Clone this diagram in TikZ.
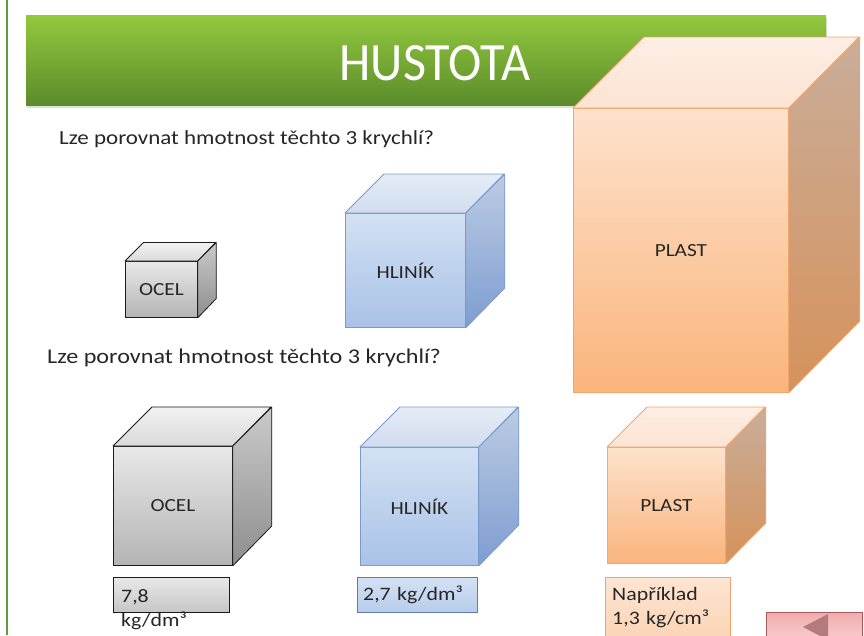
\documentclass[tikz,border=0pt]{standalone}
\usepackage{fontspec}
\setmainfont{Carlito}[FakeStretch=1.15]
\newfontfamily\titlefont{Carlito}[FakeStretch=0.93]
\usetikzlibrary{shadows}
\definecolor{txt}{HTML}{262626}
\definecolor{leftgreen}{HTML}{5E9E3E}
\definecolor{banT}{HTML}{93C83E}
\definecolor{banB}{HTML}{5B8C2B}
% gray cube
\definecolor{gL}{HTML}{1A1A1A}
\definecolor{gFT}{HTML}{E8E8E8}\definecolor{gFB}{HTML}{B4B4B4}
\definecolor{gTT}{HTML}{F2F2F2}\definecolor{gTB}{HTML}{DADADA}
\definecolor{gRT}{HTML}{CACACA}\definecolor{gRB}{HTML}{8E8E8E}
% blue cube
\definecolor{bL}{HTML}{7A9ACB}
\definecolor{bFT}{HTML}{D3E1F3}\definecolor{bFB}{HTML}{A9C2E7}
\definecolor{bTT}{HTML}{E4ECF6}\definecolor{bTB}{HTML}{D0DDF0}
\definecolor{bRT}{HTML}{BCCBE3}\definecolor{bRB}{HTML}{7E9DD2}
% orange cube
\definecolor{oL}{HTML}{F3A66C}
\definecolor{oFT}{HTML}{FDE2CC}\definecolor{oFB}{HTML}{FAB47C}
\definecolor{oTT}{HTML}{FDEEE4}\definecolor{oTB}{HTML}{FCE4D2}
\definecolor{oRT}{HTML}{C9AD9A}\definecolor{oRB}{HTML}{D6925A}
% value boxes
\definecolor{gvT}{HTML}{E8E8E8}\definecolor{gvB}{HTML}{C6C6C6}
\definecolor{bvT}{HTML}{D3E1F3}\definecolor{bvB}{HTML}{B7CCEB}\definecolor{bvL}{HTML}{5A7DB5}
\definecolor{ovT}{HTML}{FDE5D2}\definecolor{ovB}{HTML}{FBD3B4}\definecolor{ovL}{HTML}{EFA46E}
% button
\definecolor{btnT}{HTML}{F1ACAC}\definecolor{btnB}{HTML}{F9D5D5}\definecolor{btnL}{HTML}{A45A5A}
\definecolor{btnTri}{HTML}{B57A7E}
\newcommand\lblfont{\fontsize{18.5}{22}\selectfont}
\newcommand\valfont{\fontsize{19}{24}\selectfont}
% name, x, y, w, h, depth, colour prefix, label
\newcommand\drawcube[8]{%
  \node[face, draw=#7L, top color=#7FT, bottom color=#7FB,
        minimum width=#4, minimum height=#5] (#1) at (#2,#3) {#8};
  \draw[side, draw=#7L, top color=#7TT, bottom color=#7TB]
    (#1.north west) -- ++(#6,-#6) -- ++(#4,0) -- (#1.north east) -- cycle;
  \draw[side, draw=#7L, top color=#7RT, bottom color=#7RB]
    (#1.north east) -- ++(#6,-#6) -- ++(0,#5) -- (#1.south east) -- cycle;
}
\begin{document}
\begin{tikzpicture}[x=1pt,y=-1pt,
  face/.style={draw, line width=0.8pt, inner sep=0pt, anchor=north west, font=\lblfont, text=txt},
  side/.style={line width=0.8pt, line join=round},
  valbox/.style={draw, line width=0.8pt, anchor=north west, inner sep=0pt},
  valtxt/.style={anchor=base west, inner sep=0pt, font=\valfont, text=txt, text width=130pt, align=left},
  question/.style={anchor=base west, inner sep=0pt, text=txt},
  banner/.style={anchor=north west, inner sep=0pt, top color=banT, bottom color=banB,
                 drop shadow={opacity=0.25, shadow xshift=1pt, shadow yshift=-3pt}},
  titletext/.style={text=white, font=\titlefont\fontsize{54}{60}\selectfont, inner sep=0pt},
  btn/.style={draw=btnL, line width=0.8pt, anchor=north west, top color=btnT, bottom color=btnB, inner sep=0pt},
]
\useasboundingbox (0,0) rectangle (864,635);
\fill[white] (0,0) rectangle (864,635);
\draw[leftgreen, line width=1.5pt] (7,0) -- (7,635);

% banner and title
\node[banner, minimum width=800, minimum height=90] (banner) at (26,15) {};
\node[titletext] (title) at (435,63) {HUSTOTA};

% questions
\node[question, font=\fontsize{20}{24}\selectfont] (q1) at (59,144) {Lze porovnat hmotnost těchto 3 krychlí?};
\node[question, font=\fontsize{21}{25}\selectfont] (q2) at (47,363) {Lze porovnat hmotnost těchto 3 krychlí?};

% top row of cubes
\drawcube{ocelA}{125}{261}{72}{56}{18.5}{g}{OCEL}
\drawcube{hlinikA}{345}{213}{120}{114}{39}{b}{HLINÍK}
\drawcube{plastA}{573}{108}{215}{284}{71}{o}{PLAST}

% bottom row of cubes
\drawcube{ocelB}{113}{446}{119}{119}{39}{g}{OCEL}
\drawcube{hlinikB}{360}{447}{118}{118}{40}{b}{HLINÍK}
\drawcube{plastB}{607}{447}{118}{116}{40}{o}{PLAST}

% value boxes
\node[valbox, draw=gL, top color=gvT, bottom color=gvB, minimum width=116, minimum height=35] (valA) at (113,577) {};
\node[valtxt] (valAt) at (121,602) {7,8\\kg/dm³};
\node[valbox, draw=bvL, top color=bvT, bottom color=bvB, minimum width=120, minimum height=35] (valB) at (357,577) {};
\node[valtxt] (valBt) at (363,600) {2,7 kg/dm³};
\node[valbox, draw=ovL, top color=ovT, bottom color=ovB, minimum width=125, minimum height=65] (valC) at (605,577) {};
\node[valtxt] (valCt) at (612,600) {Například\\1,3 kg/cm³};

% back button
\node[btn, minimum width=96, minimum height=34] (back) at (766,612) {};
\fill[btnTri] (803,627) -- (828,614) -- (828,640) -- cycle;
\end{tikzpicture}
\end{document}
